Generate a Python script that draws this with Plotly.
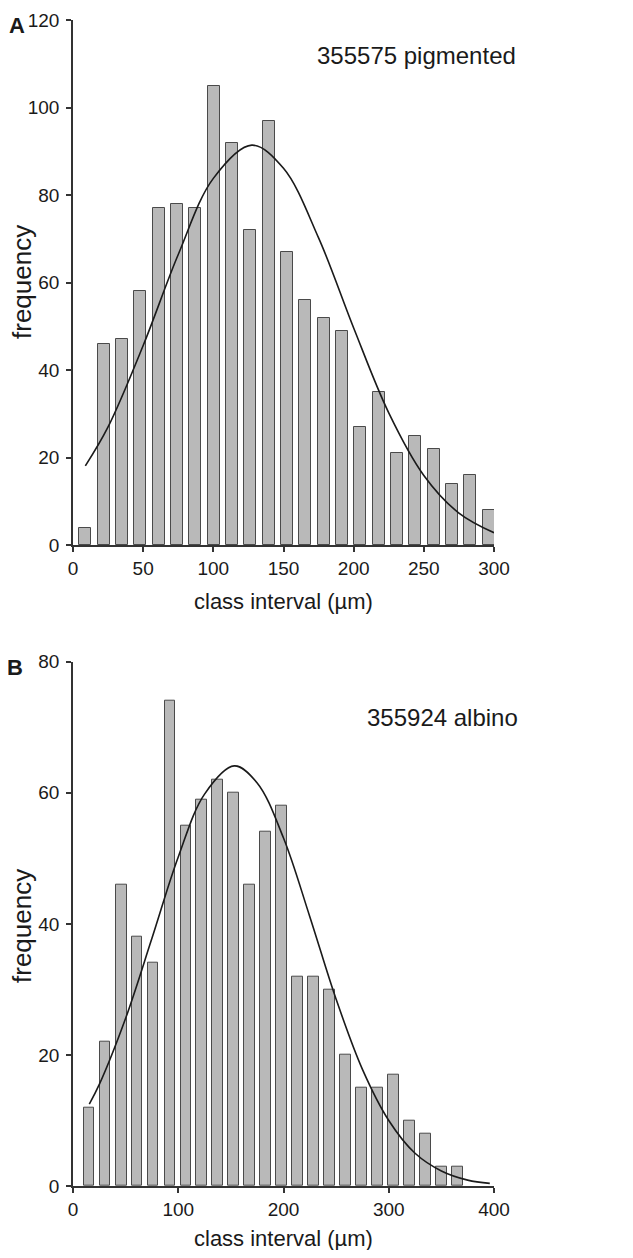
import plotly.graph_objects as go

# ---------------- data ----------------
# Panel A: 355575 pigmented
a_centers = [8.8, 21.9, 35.0, 48.0, 61.1, 74.1, 87.2, 100.3, 113.3, 126.4, 139.5, 152.5,
             165.6, 178.7, 191.7, 204.8, 217.9, 230.9, 244.0, 257.1, 270.1, 283.2, 296.3]
a_freq = [4, 46, 47, 58, 77, 78, 77, 105, 92, 72, 97, 67,
          56, 52, 49, 27, 35, 21, 25, 22, 14, 16, 8]
a_curve_x = [8.8, 25, 50, 75, 100, 127.4, 150, 175, 200, 225, 250, 275, 300]
a_curve_y = [18.1, 27.0, 45.6, 66.4, 83.8, 91.4, 86.1, 70.2, 49.6, 30.2, 15.9, 7.3, 2.8]
a_xticks = [0, 50, 100, 150, 200, 250, 300]
a_yticks = [0, 20, 40, 60, 80, 100, 120]

# Panel B: 355924 albino
b_centers = [15.5, 30.7, 46.2, 61.1, 76.3, 92.1, 107.3, 122.2, 137.3, 152.5, 167.7, 182.9,
             198.1, 213.3, 228.5, 243.7, 258.9, 274.1, 289.3, 304.4, 319.6, 334.8, 350.0, 365.2]
b_freq = [12, 22, 46, 38, 34, 74, 55, 59, 62, 60, 46, 54,
          58, 32, 32, 30, 20, 15, 15, 17, 10, 8, 3, 3]
b_curve_x = [15.5, 25, 50, 75, 100, 125, 153.2, 175, 200, 225, 250, 275, 300, 325, 350, 375, 396]
b_curve_y = [12.5, 15.5, 25.6, 37.8, 50.2, 59.8, 64.1, 61.5, 53.1, 41.1, 28.5, 17.8, 10.0,
             5.0, 2.3, 0.9, 0.4]
b_xticks = [0, 100, 200, 300, 400]
b_yticks = [0, 20, 40, 60, 80]

panel_letters = ["A", "B"]
panel_labels = ["355575 pigmented", "355924 albino"]
x_title = "class interval (µm)"
y_title = "frequency"

# ---------------- layout geometry ----------------
# The page body has an 8 px margin, so the figure is made 16 px smaller and
# every screen position below is shifted by that offset.
OFF = 8
W, H = 633 - 2 * OFF, 1258 - 2 * OFF
L, R, T, B = 73 - OFF, 494 - OFF, 20 - OFF, 1186 - OFF


def px(x):
    return (x - OFF - L) / (R - L)


def py(y):
    return (B - (y - OFF)) / (B - T)


FONT = "Liberation Sans, Arial, Helvetica, sans-serif"
INK = "#1a1a1a"
BAR_FILL = "#b9b9b9"
BAR_LINE = "#4a4a4a"

fig = go.Figure()

fig.add_trace(go.Bar(x=a_centers, y=a_freq, width=8.6, xaxis="x", yaxis="y",
                     marker=dict(color=BAR_FILL, line=dict(color=BAR_LINE, width=1)),
                     showlegend=False))
fig.add_trace(go.Scatter(x=a_curve_x, y=a_curve_y, mode="lines", xaxis="x", yaxis="y",
                         line=dict(color=INK, width=1.6, shape="spline"),
                         showlegend=False))
fig.add_trace(go.Bar(x=b_centers, y=b_freq, width=9.8, xaxis="x2", yaxis="y2",
                     marker=dict(color=BAR_FILL, line=dict(color=BAR_LINE, width=1)),
                     showlegend=False))
fig.add_trace(go.Scatter(x=b_curve_x, y=b_curve_y, mode="lines", xaxis="x2", yaxis="y2",
                         line=dict(color=INK, width=1.6, shape="spline"),
                         showlegend=False))

axis_common = dict(showline=True, linecolor="#333333", linewidth=1.5, ticks="outside",
                   ticklen=5, tickwidth=1.5, tickcolor="#333333", showgrid=False,
                   zeroline=False, tickfont=dict(family=FONT, size=19, color=INK),
                   fixedrange=True, automargin=False)

a_top = py(20)
a_bot = py(545)
b_top = py(661.7)

fig.update_layout(
    template="none",
    width=W, height=H, autosize=False,
    margin=dict(l=L, r=W - R, t=T, b=H - B, pad=0, autoexpand=False),
    paper_bgcolor="white", plot_bgcolor="white",
    font=dict(family=FONT, color=INK),
    bargap=0,
    xaxis=dict(domain=[0, 1], anchor="y", range=[0, 300], tickvals=a_xticks, **axis_common),
    yaxis=dict(domain=[a_bot, a_top], anchor="x", range=[0, 120], tickvals=a_yticks,
               ticklabelstandoff=3, **axis_common),
    xaxis2=dict(domain=[0, 1], anchor="y2", range=[0, 400], tickvals=b_xticks, **axis_common),
    yaxis2=dict(domain=[0, b_top], anchor="x2", range=[0, 80], tickvals=b_yticks,
                ticklabelstandoff=3, **axis_common),
)

ann = []
# panel letters
for letter, (cx, cy) in zip(panel_letters, [(16.5, 25), (15.5, 668)]):
    ann.append(dict(text=letter, x=px(cx), y=py(cy), xref="paper", yref="paper",
                    xanchor="center", yanchor="middle", showarrow=False,
                    font=dict(family=FONT, size=22, color=INK, weight="bold")))
# sample labels
for lab, (rx, cy) in zip(panel_labels, [(518, 55), (520, 717)]):
    ann.append(dict(text=lab, x=px(rx), y=py(cy), xref="paper", yref="paper",
                    xanchor="right", yanchor="middle", showarrow=False,
                    font=dict(family=FONT, size=24, color=INK)))
# x titles
for cy in [601, 1238]:
    ann.append(dict(text=x_title, x=px(283.5), y=py(cy), xref="paper", yref="paper",
                    xanchor="center", yanchor="middle", showarrow=False,
                    font=dict(family=FONT, size=22, color=INK)))
# y titles
for cy in [282, 926]:
    ann.append(dict(text=y_title, x=px(22), y=py(cy), xref="paper", yref="paper",
                    xanchor="center", yanchor="middle", showarrow=False, textangle=-90,
                    font=dict(family=FONT, size=26, color=INK)))
fig.update_layout(annotations=ann)

fig.write_html("out.html")
